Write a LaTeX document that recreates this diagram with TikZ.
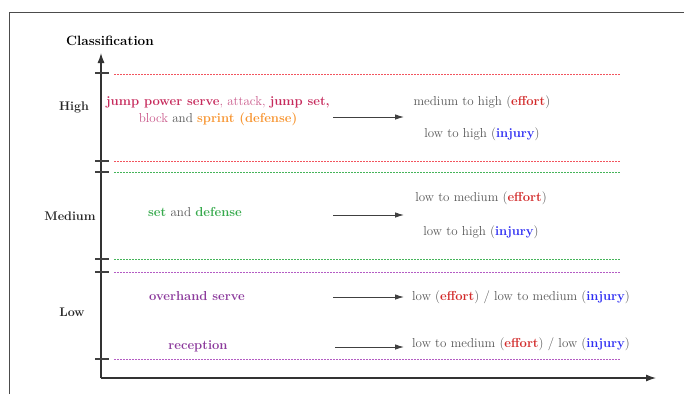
\documentclass[tikz,border=0pt]{standalone}
\usepackage{tikz}
\usetikzlibrary{arrows.meta}
\definecolor{crim}{HTML}{C62A5C}
\definecolor{rosy}{HTML}{C9588A}
\definecolor{orng}{HTML}{F7942F}
\definecolor{grn}{HTML}{36A94C}
\definecolor{purp}{HTML}{8C3A9C}
\definecolor{effred}{HTML}{D22B2B}
\definecolor{injblue}{HTML}{2C2CF2}
\definecolor{txtgray}{HTML}{555555}
\definecolor{redln}{HTML}{F2545E}
\definecolor{grnln}{HTML}{45B45A}
\definecolor{purln}{HTML}{B45CC4}
\newcommand{\efft}{(\textbf{\color{effred}effort})}
\newcommand{\injy}{(\textbf{\color{injblue}injury})}

\begin{document}
\begin{tikzpicture}[x=1pt,y=-1pt,
    ax/.style={line width=1.1pt,black!80,-{Latex[length=10pt,width=7pt]}},
    hmark/.style={line width=1.1pt,black!75},
    sep/.style={dash pattern=on 2pt off 1pt,line width=0.8pt},
    arr/.style={-{Latex[length=9pt,width=5.5pt]},line width=0.9pt,black!75},
    lvl/.style={font=\fontsize{12.5}{14}\selectfont\bfseries,text=black!85},
    act/.style={font=\fontsize{13}{17}\selectfont,text=txtgray,anchor=base,align=center,inner sep=0pt},
    res/.style={font=\fontsize{13}{17}\selectfont,text=txtgray,anchor=base,inner sep=0pt}]
      \useasboundingbox (0,0) rectangle (684,394);
      \draw[black!70,line width=0.8pt] (9,394) -- (9,12) -- (684,12);
      \coordinate (O) at (101,378);
      \coordinate (top) at (101,53);
      \coordinate (right) at (656,378);
      \draw[ax] (O) -- (top);
      \draw[ax] (O) -- (right);
      \node[font=\fontsize{13.5}{15}\selectfont\bfseries] (cls) at (110,41) {Classification};
      \node[lvl] (high) at (74,107) {High};
      \node[lvl] (medium) at (70,216) {Medium};
      \node[lvl] (low) at (72,312) {Low};
      \foreach \y in {73,161,172,259,272,359}
        \draw[hmark] (95,\y) -- (109,\y);
      \foreach \y/\c in {74/redln,161/redln,172/grnln,259/grnln,272/purln,359/purln}
        \draw[sep,\c] (114,\y) -- (620,\y);
      \node[act] (hs) at (218,122) {\textbf{\color{crim}jump power serve}{\color{rosy}, attack, }\textbf{\color{crim}jump set,}\\
        {\color{rosy}block} and \textbf{\color{orng}sprint (defense)}};
      \node[act] (ms) at (195,216) {\textbf{\color{grn}set} and \textbf{\color{grn}defense}};
      \node[act] (ls1) at (197,300) {\textbf{\color{purp}overhand serve}};
      \node[act] (ls2) at (198,349) {\textbf{\color{purp}reception}};
      \node[res] (he) at (482,105) {medium to high \efft};
      \node[res] (hi) at (482,137) {low to high \injy};
      \node[res] (me) at (481,201) {low to medium \efft};
      \node[res] (mi) at (481,235) {low to high \injy};
      \node[res,anchor=base west] (l1) at (412,300) {low \efft{} / low to medium \injy};
      \node[res,anchor=base west] (l2) at (412,347) {low to medium \efft{} / low \injy};
      \coordinate (ha) at (333,117);
      \coordinate (hb) at (404,117);
      \coordinate (ma) at (333,215);
      \coordinate (mb) at (404,215);
      \coordinate (la) at (333,297);
      \coordinate (lb) at (404,297);
      \coordinate (ra) at (335,347);
      \coordinate (rb) at (404,347);
      \draw[arr] (ha) -- (hb);
      \draw[arr] (ma) -- (mb);
      \draw[arr] (la) -- (lb);
      \draw[arr] (ra) -- (rb);
    \end{tikzpicture}
\end{document}
